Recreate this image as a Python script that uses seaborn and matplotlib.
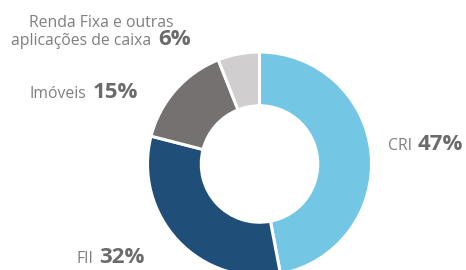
import matplotlib
matplotlib.use("Agg")
import matplotlib.pyplot as plt
import seaborn as sns

# data
categories = ["CRI", "FII", "Imóveis", "Renda Fixa e outras\naplicações de caixa"]
shares = [47, 32, 15, 6]
pct_labels = ["47%", "32%", "15%", "6%"]
colors = ["#74C6E5", "#1F4E79", "#767171", "#D0CECE"]

W, H = 466, 270


def set_style():
    sns.set_theme(style="white")
    plt.rcParams.update({
        "font.family": ["Open Sans", "DejaVu Sans"],
        "figure.dpi": 100,
        "savefig.dpi": 100,
    })


def fx(px):
    return px / W


def fy(py):
    return 1 - py / H


set_style()
fig = plt.figure(figsize=(W / 100, H / 100))

# donut: centre (259.5, 164) px, outer radius ~112 px
cx, cy, r = 259.5, 164, 112
ax = fig.add_axes([fx(cx - r), fy(cy + r), 2 * r / W, 2 * r / H])
ax.pie(shares, colors=colors, startangle=90, counterclock=False, radius=1,
       wedgeprops=dict(width=0.48, edgecolor="white", linewidth=2.2))
ax.set_xlim(-1, 1)
ax.set_ylim(-1, 1)
ax.set_aspect("auto")
ax.axis("off")

name_kw = dict(fontsize=11.3, color="#7F7F7F", va="baseline")
pct_kw = dict(fontsize=16, color="#6B6B6B", fontweight="bold", va="baseline")

# (end of name x, baseline y, start of pct x) in pixels
label_pos = [(412, 150, 418), (93, 263, 99), (86, 98, 93), (151, 45, 158)]

for name, pct, (xn, yb, xp) in zip(categories, pct_labels, label_pos):
    lines = name.split("\n")
    if len(lines) > 1:
        fig.text(fx(xn - 50), fy(yb - 18), lines[0], ha="center", **name_kw)
    fig.text(fx(xn), fy(yb), lines[-1], ha="right", **name_kw)
    fig.text(fx(xp), fy(yb), pct, ha="left", **pct_kw)

fig.savefig("out.png", dpi=100)
